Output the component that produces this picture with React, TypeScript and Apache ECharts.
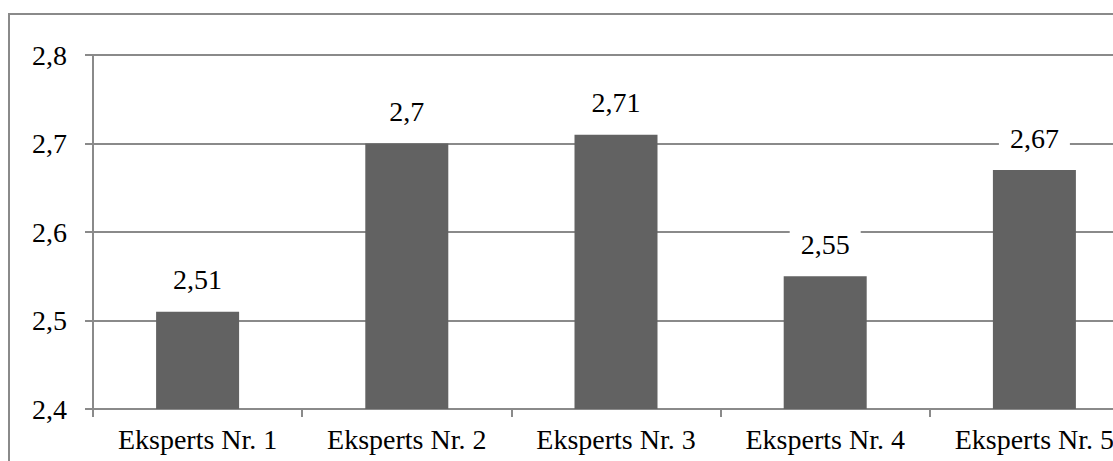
import React, { useEffect, useRef } from "react";
import * as echarts from "echarts";

const categories = ["Eksperts Nr. 1", "Eksperts Nr. 2", "Eksperts Nr. 3", "Eksperts Nr. 4", "Eksperts Nr. 5"];
const scores = [2.51, 2.7, 2.71, 2.55, 2.67];
const yMin = 2.4;
const yMax = 2.8;
const yStep = 0.1;

const comma = (v: number, digits: number) => v.toFixed(digits).replace(".", ",");
const FONT = "Times New Roman, Liberation Serif, serif";
const LINE = "#8a8a8a";

export default function App() {
  const ref = useRef<HTMLDivElement>(null);

  useEffect(() => {
    if (!ref.current) return;
    const chart = echarts.init(ref.current, undefined, { renderer: "svg" });
    chart.setOption({
      animation: false,
      textStyle: { fontFamily: FONT },
      // outer frame of the chart area (top and left edges)
      graphic: [
        {
          type: "line",
          silent: true,
          shape: { x1: 8, y1: 14, x2: 1200, y2: 14 },
          style: { stroke: LINE, lineWidth: 2 },
        },
        {
          type: "line",
          silent: true,
          shape: { x1: 9, y1: 13, x2: 9, y2: 480 },
          style: { stroke: LINE, lineWidth: 2 },
        },
      ],
      grid: { left: 93, top: 55, right: 61, bottom: 71, containLabel: false },
      xAxis: {
        type: "category",
        data: categories,
        boundaryGap: true,
        axisLine: { show: true, lineStyle: { color: LINE, width: 2 } },
        axisTick: { show: true, length: 8, alignWithLabel: false, lineStyle: { color: LINE, width: 2 } },
        axisLabel: { color: "#000", fontFamily: FONT, fontSize: 28, margin: 16 },
        splitLine: { show: false },
      },
      yAxis: {
        type: "value",
        min: yMin,
        max: yMax,
        interval: yStep,
        axisLine: { show: true, lineStyle: { color: LINE, width: 2 } },
        axisTick: { show: true, length: 8, lineStyle: { color: LINE, width: 2 } },
        axisLabel: {
          color: "#000",
          fontFamily: FONT,
          fontSize: 28,
          margin: 26,
          formatter: (v: number) => comma(v, 1),
        },
        splitLine: { show: true, lineStyle: { color: LINE, width: 2 } },
      },
      series: [
        {
          type: "bar",
          data: scores,
          barWidth: 83,
          itemStyle: { color: "#626262" },
          label: {
            show: true,
            position: "top",
            distance: 16,
            color: "#000",
            fontFamily: FONT,
            fontSize: 28,
            backgroundColor: "#ffffff",
            padding: [2, 11],
            formatter: (p: any) => {
              const v = p.value as number;
              const s = String(Math.round(v * 100) / 100);
              return s.replace(".", ",");
            },
          },
        },
      ],
    });
    return () => chart.dispose();
  }, []);

  return (
    <div style={{ position: "fixed", left: 0, top: 0, width: 1113, height: 461, overflow: "hidden", background: "#fff" }}>
      <div ref={ref} style={{ position: "absolute", left: 0, top: 0, width: 1200, height: 480 }} />
    </div>
  );
}
